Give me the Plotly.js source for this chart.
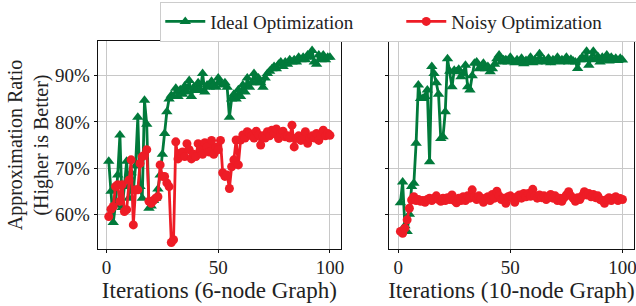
<!DOCTYPE html>
<html>
<head>
<meta charset="utf-8">
<script src="https://cdn.plot.ly/plotly-3.0.1.min.js"></script>
<style>html,body{margin:0;padding:0;background:#fff;}#chart{width:636px;height:306px;}</style>
</head>
<body>
<div id="chart"></div>
<script>
// Iterations 1..100
const iterations = Array.from({length: 100}, (_, k) => k + 1);

// 6-node graph
const ideal6 = [
  71.5, 65.0, 58.2, 62.0, 68.5, 77.2, 61.5, 66.0, 71.5, 63.5,
  69.0, 65.0, 70.5, 81.0, 66.0, 63.5, 84.7, 79.5, 61.3, 61.8,
  63.0, 63.5, 65.5, 68.5, 73.0, 77.5, 82.2, 85.0, 85.8, 85.5,
  87.3, 85.5, 87.0, 86.0, 87.8, 86.5, 89.0, 85.5, 87.5, 86.8,
  88.5, 87.0, 90.5, 86.5, 88.0, 87.5, 88.8, 88.0, 87.5, 89.5,
  88.5, 88.0, 88.5, 87.5, 81.0, 85.0, 86.0, 85.0, 87.0, 85.5,
  88.0, 86.5, 89.5, 87.5, 88.5, 90.5, 88.5, 89.5, 88.5, 87.5,
  89.5, 90.5, 91.0, 91.5, 92.0, 91.5, 92.5, 93.0, 92.0, 93.0,
  92.5, 93.5, 93.0, 93.5, 93.0, 94.0, 93.5, 94.0, 93.5, 94.5,
  94.0, 95.5, 93.0, 92.5, 94.5, 93.5, 94.5, 93.5, 94.0, 94.0
];
const noisy6 = [
  59.5, 61.1, 61.7, 66.0, 66.4, 62.8, 66.4, 60.6, 61.0, 67.4,
  71.8, 57.7, 65.3, 65.3, 71.0, 72.5, 72.8, 74.0, 62.8, 62.4,
  63.0, 63.5, 63.8, 70.7, 68.2, 68.2, 66.8, 66.0, 53.9, 54.5,
  75.7, 72.0, 73.2, 73.5, 72.5, 75.3, 74.0, 72.0, 73.0, 72.5,
  75.3, 74.0, 73.0, 75.5, 74.6, 73.5, 76.0, 73.0, 74.5, 74.0,
  76.0, 69.0, 68.2, 68.5, 65.6, 70.3, 71.8, 76.1, 70.7, 76.1,
  77.2, 76.5, 77.9, 77.5, 77.0, 76.5, 78.0, 77.2, 75.0, 77.0,
  76.5, 77.9, 77.0, 78.2, 77.5, 78.5, 76.4, 77.5, 78.0, 76.8,
  77.0, 76.5, 79.3, 74.6, 76.5, 77.0, 76.0, 76.5, 77.9, 75.4,
  76.5, 77.0, 76.5, 77.5, 76.0, 77.0, 78.2, 77.0, 77.5, 77.1
];

// 10-node graph
const ideal10 = [
  62.5, 67.0, 57.5, 56.3, 60.0, 66.0, 66.7, 75.4, 88.0, 85.1,
  85.1, 85.5, 86.9, 71.4, 92.0, 90.5, 88.5, 86.0, 76.4, 76.8,
  82.2, 93.7, 91.0, 87.6, 91.2, 90.9, 91.4, 89.8, 90.5, 92.3,
  87.6, 86.9, 90.0, 92.7, 93.0, 91.5, 91.6, 92.7, 91.5, 92.0,
  90.9, 91.5, 92.5, 93.7, 94.5, 93.0, 93.5, 93.5, 93.0, 94.0,
  93.2, 92.8, 93.5, 93.0, 93.8, 92.6, 93.3, 93.0, 94.0, 92.8,
  93.5, 93.0, 94.8, 93.2, 93.5, 93.0, 93.8, 92.8, 93.5, 93.2,
  94.0, 93.0, 93.5, 93.2, 94.0, 93.0, 93.6, 93.2, 93.0, 91.6,
  93.5, 94.0, 93.5, 95.3, 92.3, 93.8, 95.3, 93.5, 94.2, 93.0,
  94.0, 93.5, 94.5, 93.2, 94.0, 93.5, 93.8, 93.3, 93.8, 93.4
];
const noisy10 = [
  56.3, 55.9, 57.0, 58.8, 61.3, 63.1, 63.8, 63.0, 63.2, 62.8,
  63.0, 62.6, 63.2, 63.5, 63.0, 63.4, 64.0, 63.2, 62.8, 63.5,
  63.0, 63.6, 63.2, 64.2, 63.0, 62.5, 63.5, 63.0, 63.8, 63.0,
  64.0, 63.5, 65.3, 63.8, 63.2, 64.0, 63.5, 62.6, 63.5, 63.8,
  63.0, 64.3, 63.5, 65.0, 64.0, 63.2, 63.5, 62.4, 63.8, 64.0,
  63.5, 62.6, 63.8, 64.2, 63.5, 64.5, 63.8, 64.5, 63.9, 65.4,
  64.0, 63.5, 64.2, 63.6, 64.0, 63.2, 63.8, 64.3, 63.5, 64.0,
  63.0, 63.5, 62.8, 63.6, 64.2, 64.9, 64.0, 63.5, 62.8, 63.6,
  63.2, 64.0, 64.9, 64.2, 64.5, 63.8, 64.3, 63.6, 64.0, 63.2,
  63.0, 62.4, 63.2, 63.6, 63.0, 63.5, 63.8, 63.0, 63.4, 63.2
];

const seriesNames = ["Ideal Optimization", "Noisy Optimization"];
const xTitles = ["Iterations (6-node Graph)", "Iterations (10-node Graph)"];
const yTitle = "Approximation Ratio<br>(Higher is Better)";
const yTicks = [60, 70, 80, 90];
const yTickLabels = ["60%", "70%", "80%", "90%"];
const xTicks = [0, 50, 100];
const xTickLabels = ["0", "50", "100"];

const GREEN = "#017a3b";
const RED = "#ee1c26";
const FONT = "Liberation Serif, Times New Roman, serif";

function trace(y, name, color, symbol, xa, ya, show) {
  return {
    x: iterations, y: y, name: name, type: "scatter", mode: "lines+markers",
    xaxis: xa, yaxis: ya, showlegend: show, legendgroup: name,
    line: {color: color, width: 2.8},
    marker: {color: color, symbol: symbol, size: symbol === "circle" ? 9 : 10}
  };
}

const data = [
  trace(ideal6, seriesNames[0], GREEN, "triangle-up", "x", "y", true),
  trace(noisy6, seriesNames[1], RED, "circle", "x", "y", true),
  trace(ideal10, seriesNames[0], GREEN, "triangle-up", "x2", "y2", false),
  trace(noisy10, seriesNames[1], RED, "circle", "x2", "y2", false)
];

const axBase = {
  automargin: false,
  showline: true, mirror: true, linecolor: "#111", linewidth: 1,
  ticks: "outside", ticklen: 3, tickcolor: "#111", tickwidth: 1,
  showgrid: true, gridcolor: "#c8c8c8", gridwidth: 1, zeroline: false,
  ticklabeloverflow: "allow",
  tickfont: {family: FONT, size: 19, color: "#222"}
};
const xRange = [-3.95, 104.95];
const yRange = [52.4, 97.6];
const xTitleFont = {family: FONT, size: 23, color: "#222"};

const layout = {
  width: 636, height: 306,
  margin: {l: 0, r: 0, t: 0, b: 0, autoexpand: false},
  paper_bgcolor: "#fff", plot_bgcolor: "#fff",
  font: {family: FONT, color: "#222"},
  showlegend: true,
  legend: {
    orientation: "h", x: 0.252, xanchor: "left", y: 0.995, yanchor: "top",
    bordercolor: "#cccccc", borderwidth: 1, bgcolor: "#fff",
    font: {family: FONT, size: 19, color: "#222"},
    entrywidth: 186, itemwidth: 40
  },
  xaxis: Object.assign({}, axBase, {
    domain: [0.1536, 0.5362], range: xRange, tickmode: "array", tickvals: xTicks, ticktext: xTickLabels,
    ticklabelstandoff: -2,
    title: {text: xTitles[0], font: xTitleFont, standoff: 0}
  }),
  yaxis: Object.assign({}, axBase, {
    domain: [0.185, 0.867], range: yRange, tickmode: "array", tickvals: yTicks, ticktext: yTickLabels,
    title: {text: yTitle, font: {family: FONT, size: 20, color: "#222"}, standoff: 1}
  }),
  xaxis2: Object.assign({}, axBase, {
    domain: [0.6121, 0.9962], range: xRange, tickmode: "array", tickvals: xTicks, ticktext: xTickLabels, anchor: "y2",
    ticklabelstandoff: -2,
    title: {text: xTitles[1], font: xTitleFont, standoff: 0}
  }),
  yaxis2: Object.assign({}, axBase, {
    domain: [0.185, 0.867], range: yRange, tickmode: "array", tickvals: yTicks, anchor: "x2",
    matches: "y", showticklabels: false
  })
};

Plotly.newPlot("chart", data, layout, {displayModeBar: false, staticPlot: true});
</script>
</body>
</html>
